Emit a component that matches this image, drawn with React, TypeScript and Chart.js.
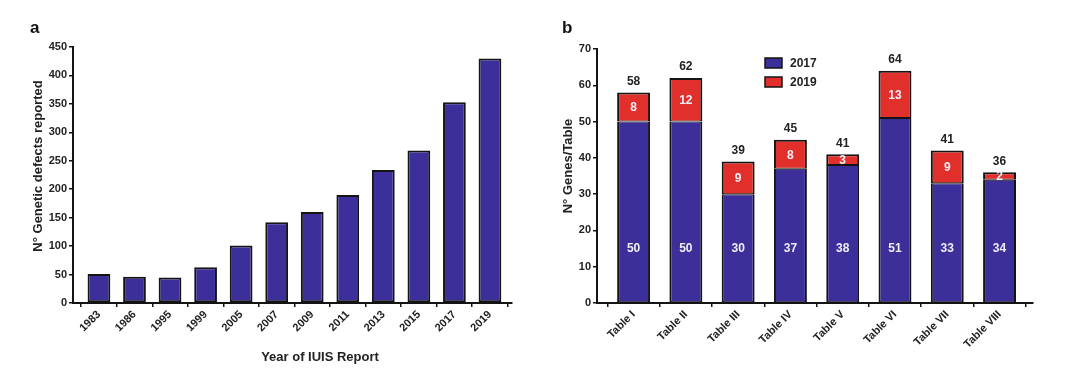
import React, { useEffect, useRef } from "react";
import { Chart, registerables } from "chart.js";

Chart.register(...registerables);

// ---------- data ----------
const yearLabels = ["1983", "1986", "1995", "1999", "2005", "2007", "2009", "2011", "2013", "2015", "2017", "2019"];
const defectsReported = [51, 46, 45, 63, 101, 142, 160, 190, 234, 268, 353, 430];

const tableLabels = ["Table I", "Table II", "Table III", "Table IV", "Table V", "Table VI", "Table VII", "Table VIII"];
const genes2017 = [50, 50, 30, 37, 38, 51, 33, 34];
const genes2019 = [8, 12, 9, 8, 3, 13, 9, 2];
const tableTotals = [58, 62, 39, 45, 41, 64, 41, 36];
const seriesNames = ["2017", "2019"];

const BLUE = "#3c2f9a";
const RED = "#e1302b";
const EDGE = "#141414";
const FONT = '"Liberation Sans", Arial, Helvetica, sans-serif';
const W = 540;
const H = 372;

type Frame = { left: number; right: number; top: number; bottom: number; xmin: number; xmax: number };

function makeScales(frame: Frame, labels: string[], yMax: number, yStep: number) {
  return {
    x: {
      type: "linear" as const,
      min: frame.xmin,
      max: frame.xmax,
      offset: false,
      afterFit: (s: any) => {
        s.height = H - frame.bottom;
      },
      afterBuildTicks: (s: any) => {
        s.ticks = labels.map((_, i) => ({ value: i }));
      },
      ticks: {
        autoSkip: false,
        minRotation: 45,
        maxRotation: 45,
        padding: 1,
        color: "#222",
        font: { family: FONT, size: 11, weight: "bold" as const },
        callback: (v: any) => labels[v] ?? "",
      },
      grid: { display: true, drawOnChartArea: false, drawTicks: true, tickLength: 4, color: EDGE, lineWidth: 1.5 },
      border: { display: true, color: EDGE, width: 2 },
    },
    y: {
      min: 0,
      max: yMax,
      afterFit: (s: any) => {
        s.width = frame.left;
      },
      ticks: {
        stepSize: yStep,
        padding: 2,
        color: "#222",
        font: { family: FONT, size: 11, weight: "bold" as const },
      },
      grid: { display: true, drawOnChartArea: false, drawTicks: true, tickLength: 4, color: EDGE, lineWidth: 1.5 },
      border: { display: true, color: EDGE, width: 2 },
    },
  };
}

function textPlugin(draw: (chart: any, ctx: CanvasRenderingContext2D) => void) {
  return {
    id: "texts",
    afterDraw(chart: any) {
      const ctx = chart.ctx as CanvasRenderingContext2D;
      ctx.save();
      draw(chart, ctx);
      ctx.restore();
    },
  };
}

function PanelA() {
  const ref = useRef<HTMLCanvasElement>(null);
  useEffect(() => {
    const frame: Frame = { left: 73, right: 512, top: 47, bottom: 303, xmin: -0.73, xmax: 11.62 };
    const chart = new Chart(ref.current!, {
      type: "bar",
      data: {
        datasets: [
          {
            label: "Genetic defects",
            data: defectsReported.map((v, i) => ({ x: i, y: v })),
            backgroundColor: BLUE,
            borderColor: EDGE,
            borderWidth: 2,
            borderSkipped: false,
            categoryPercentage: 1,
            barPercentage: 0.64,
          },
        ],
      },
      options: {
        animation: false,
        responsive: false,
        devicePixelRatio: 1,
        layout: { padding: { left: 0, top: frame.top, right: W - frame.right, bottom: 0 } },
        plugins: { legend: { display: false }, tooltip: { enabled: false } },
        scales: makeScales(frame, yearLabels, 450, 50) as any,
      },
      plugins: [
        textPlugin((chart, ctx) => {
          ctx.fillStyle = "#111";
          ctx.font = `bold 17px ${FONT}`;
          ctx.textAlign = "left";
          ctx.textBaseline = "alphabetic";
          ctx.fillText("a", 30, 33);
          ctx.fillStyle = "#222";
          ctx.font = `bold 13px ${FONT}`;
          ctx.textAlign = "center";
          ctx.textBaseline = "middle";
          ctx.fillText("Year of IUIS Report", 320, 357);
          ctx.translate(38, 166);
          ctx.rotate(-Math.PI / 2);
          ctx.fillText("N° Genetic defects reported", 0, 0);
        }),
      ],
    });
    return () => chart.destroy();
  }, []);
  return <canvas ref={ref} width={W} height={H} style={{ width: W, height: H, display: "block" }} />;
}

function PanelB() {
  const ref = useRef<HTMLCanvasElement>(null);
  useEffect(() => {
    const frame: Frame = { left: 57, right: 493, top: 49, bottom: 303, xmin: -0.7, xmax: 7.64 };
    const common = {
      borderColor: EDGE,
      borderSkipped: false,
      categoryPercentage: 1,
      barPercentage: 0.63,
      stack: "s",
    };
    const chart = new Chart(ref.current!, {
      type: "bar",
      data: {
        datasets: [
          {
            label: seriesNames[0],
            data: genes2017.map((v, i) => ({ x: i, y: v })),
            backgroundColor: BLUE,
            borderWidth: { top: 1, bottom: 1, left: 2, right: 2 },
            ...common,
          },
          {
            label: seriesNames[1],
            data: genes2019.map((v, i) => ({ x: i, y: v })),
            backgroundColor: RED,
            borderWidth: { top: 2, bottom: 1, left: 2, right: 2 },
            ...common,
          },
        ],
      },
      options: {
        animation: false,
        responsive: false,
        devicePixelRatio: 1,
        layout: { padding: { left: 0, top: frame.top, right: W - frame.right, bottom: 0 } },
        plugins: { legend: { display: false }, tooltip: { enabled: false } },
        scales: (() => {
          const s: any = makeScales(frame, tableLabels, 70, 10);
          s.x.stacked = true;
          s.y.stacked = true;
          return s;
        })(),
      },
      plugins: [
        textPlugin((chart, ctx) => {
          ctx.fillStyle = "#111";
          ctx.font = `bold 17px ${FONT}`;
          ctx.textAlign = "left";
          ctx.textBaseline = "alphabetic";
          ctx.fillText("b", 22, 33);

          const m0 = chart.getDatasetMeta(0).data;
          const m1 = chart.getDatasetMeta(1).data;
          const yScale = chart.scales.y;
          ctx.textAlign = "center";
          ctx.textBaseline = "middle";
          ctx.font = `bold 12px ${FONT}`;
          m0.forEach((bar: any, i: number) => {
            ctx.fillStyle = "#eeeef6";
            ctx.fillText(String(genes2017[i]), bar.x, yScale.getPixelForValue(15));
            const top = m1[i];
            ctx.fillText(String(genes2019[i]), top.x, (top.y + top.base) / 2 + 1);
            ctx.fillStyle = "#222";
            ctx.fillText(String(tableTotals[i]), top.x, top.y - 11);
          });

          // legend
          const items = [
            { c: BLUE, t: seriesNames[0], y: 63 },
            { c: RED, t: seriesNames[1], y: 82 },
          ];
          items.forEach((it) => {
            ctx.fillStyle = it.c;
            ctx.fillRect(225, it.y - 5, 17, 10);
            ctx.strokeStyle = EDGE;
            ctx.lineWidth = 1.5;
            ctx.strokeRect(225, it.y - 5, 17, 10);
            ctx.fillStyle = "#222";
            ctx.textAlign = "left";
            ctx.font = `bold 12px ${FONT}`;
            ctx.fillText(it.t, 250, it.y + 1);
          });

          ctx.fillStyle = "#222";
          ctx.font = `bold 13px ${FONT}`;
          ctx.textAlign = "center";
          ctx.translate(28, 166);
          ctx.rotate(-Math.PI / 2);
          ctx.fillText("N° Genes/Table", 0, 0);
        }),
      ],
    });
    return () => chart.destroy();
  }, []);
  return <canvas ref={ref} width={W} height={H} style={{ width: W, height: H, display: "block" }} />;
}

export default function App() {
  return (
    <div style={{ position: "absolute", left: 0, top: 0, width: 1080, height: 372, display: "flex", background: "#fff" }}>
      <PanelA />
      <PanelB />
    </div>
  );
}
